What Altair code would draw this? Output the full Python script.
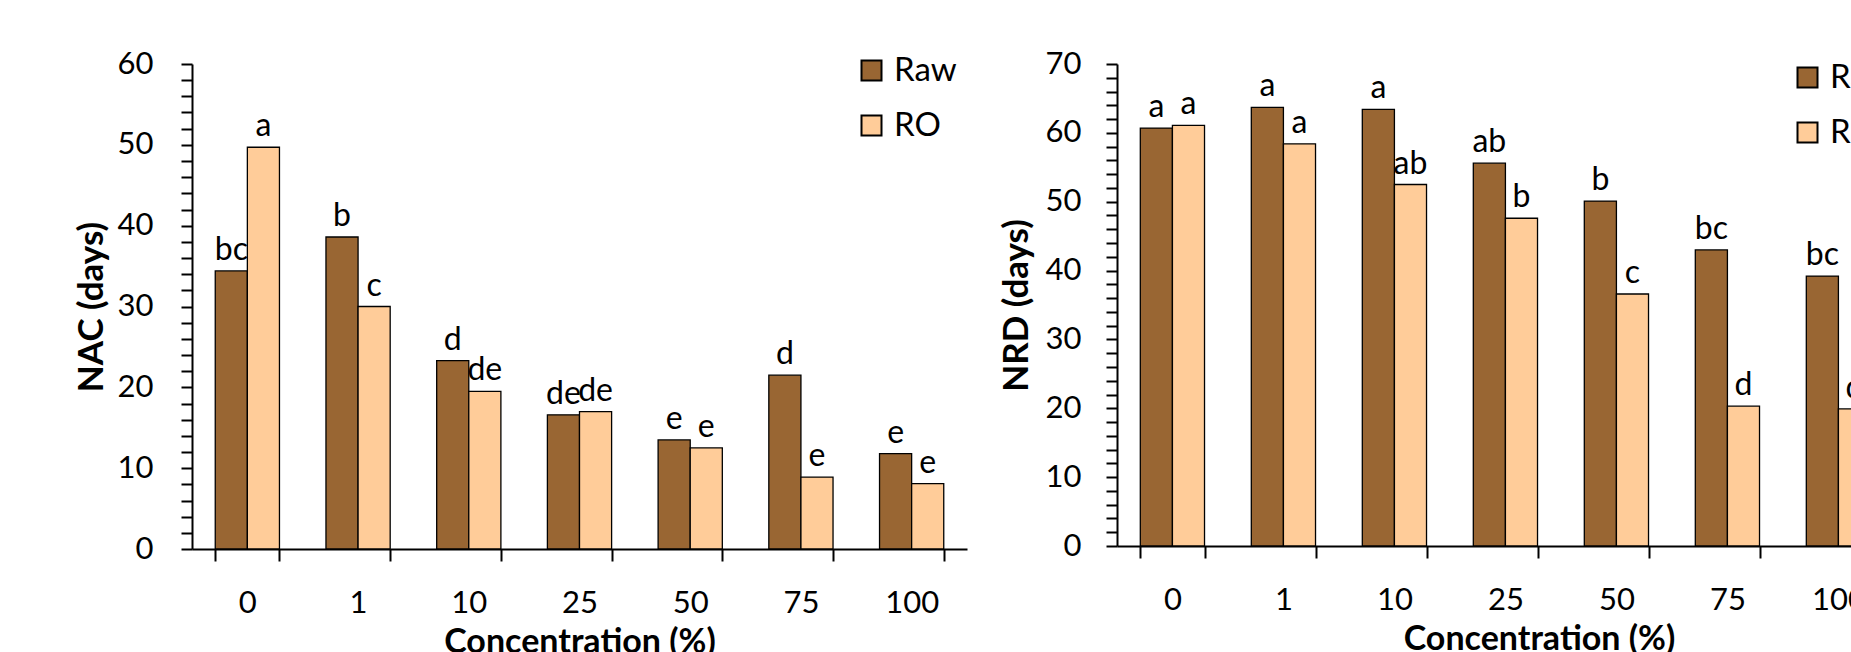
import altair as alt
import pandas as pd

conc = ["0", "1", "10", "25", "50", "75", "100"]
series = ["Raw", "RO"]

nac_raw = [34.4, 38.6, 23.3, 16.6, 13.5, 21.5, 11.8]
nac_ro = [49.7, 30.0, 19.5, 17.0, 12.5, 8.9, 8.1]
nac_raw_lbl = ["bc", "b", "d", "de", "e", "d", "e"]
nac_ro_lbl = ["a", "c", "de", "de", "e", "e", "e"]

nrd_raw = [60.7, 63.7, 63.4, 55.6, 50.1, 43.0, 39.2]
nrd_ro = [61.1, 58.4, 52.5, 47.6, 36.6, 20.3, 19.9]
nrd_raw_lbl = ["a", "a", "a", "ab", "b", "bc", "bc"]
nrd_ro_lbl = ["a", "a", "ab", "b", "c", "d", "d"]

colors = ["#996633", "#FFCC99"]
FONT = "Lato"


def make_df(raw, ro, raw_lbl, ro_lbl):
    rows = []
    for i, c in enumerate(conc):
        rows.append({"conc": c, "series": "Raw", "value": raw[i], "lbl": raw_lbl[i]})
        rows.append({"conc": c, "series": "RO", "value": ro[i], "lbl": ro_lbl[i]})
    return pd.DataFrame(rows)


def panel(df, ytitle, ymax, width, height, legx, legy, ylabpad, xtitlex):
    x = alt.X(
        "conc:N",
        sort=conc,
        scale=alt.Scale(paddingInner=0.42, paddingOuter=0.21),
        axis=alt.Axis(
            title="Concentration (%)",
            labelAngle=0,
            tickBand="extent",
            tickSize=12,
            labelPadding=51,
            labelBaseline="alphabetic",
            labelFontSize=31,
            titleX=xtitlex,
            titleY=103,
            titleAlign="center",
            titleBaseline="alphabetic",
            titleFontSize=34,
        ),
    )
    y = alt.Y(
        "value:Q",
        scale=alt.Scale(domain=[0, ymax], nice=False),
        axis=alt.Axis(
            title=ytitle,
            values=list(range(0, ymax + 1, 2)),
            labelExpr="datum.value % 10 === 0 ? datum.label : ''",
            labelOverlap=False,
            tickSize=11,
            labelPadding=ylabpad,
            labelFontSize=31,
            grid=False,
            titleX=-90,
            titleY=height / 2,
            titleAngle=-90,
            titleAlign="center",
            titleBaseline="alphabetic",
            titleFontSize=35,
        ),
    )
    xo = alt.XOffset("series:N", sort=series)
    bars = alt.Chart(df).mark_bar(stroke="black", strokeWidth=1.3).encode(
        x=x,
        y=y,
        xOffset=xo,
        color=alt.Color(
            "series:N",
            scale=alt.Scale(domain=series, range=colors),
            legend=alt.Legend(
                title=None,
                orient="none",
                legendX=legx,
                legendY=legy,
                symbolType="square",
                symbolSize=400,
                symbolStrokeColor="black",
                symbolStrokeWidth=2,
                labelFontSize=33,
                labelFont=FONT,
                labelColor="black",
                labelOffset=6,
                rowPadding=21,
                padding=0,
            ),
        ),
    )
    text = alt.Chart(df).mark_text(
        dy=-11, baseline="alphabetic", fontSize=32, font=FONT, color="black"
    ).encode(x=x, y=y, xOffset=xo, text="lbl:N")
    return alt.layer(bars, text).properties(width=width, height=height)


left = panel(make_df(nac_raw, nac_ro, nac_raw_lbl, nac_ro_lbl), "NAC (days)", 60,
             775, 485, 663, -10, 28, 387.5)
right = panel(make_df(nrd_raw, nrd_ro, nrd_raw_lbl, nrd_ro_lbl), "NRD (days)", 70,
              777, 482, 674, -3, 25, 422)

chart = (
    alt.hconcat(left, right, spacing=150, bounds="flush")
    .resolve_legend(color="independent")
    .resolve_scale(color="independent")
    .properties(
        padding={"left": 192, "top": 64, "right": 1851 - 192, "bottom": 652 - 64},
        autosize=alt.AutoSizeParams(type="none"),
        background="white",
    )
    .configure_view(stroke=None)
    .configure_axis(
        domainColor="black",
        domainWidth=2,
        tickColor="black",
        tickWidth=2,
        labelColor="black",
        titleColor="black",
        labelFont=FONT,
        titleFont=FONT,
        titleFontWeight="bold",
    )
)

chart.save("out.html", embed_options={"renderer": "svg", "actions": False})
